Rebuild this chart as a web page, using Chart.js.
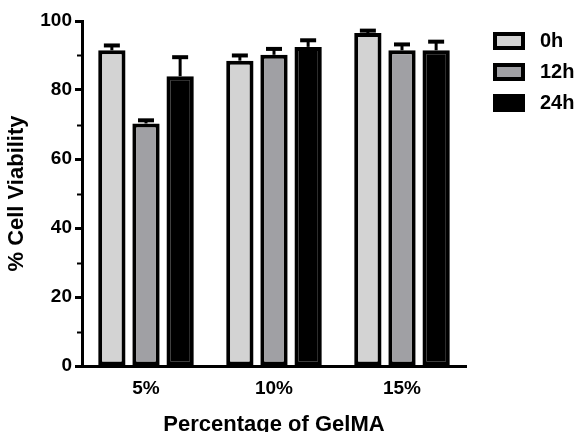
<!DOCTYPE html>
<html>
<head>
<meta charset="utf-8">
<script src="https://cdn.jsdelivr.net/npm/chart.js@4"></script>
<style>
  html, body { margin: 0; padding: 0; background: #fff; }
  #wrap { width: 578px; height: 432px; }
</style>
</head>
<body>
<div id="wrap"><canvas id="myChart"></canvas></div>
<script>
const categories = ['5%', '10%', '15%'];
const seriesNames = ['0h', '12h', '24h'];
const viability0h = [91.5, 88.5, 96.5];
const viability12h = [70.3, 90.2, 91.5];
const viability24h = [84.0, 92.5, 91.5];
const err0h = [1.7, 1.8, 1.0];
const err12h = [1.2, 2.0, 2.0];
const err24h = [5.8, 2.2, 2.8];
const yTicks = [0, 20, 40, 60, 80, 100];
const yMinorTicks = [10, 30, 50, 70, 90];

Chart.defaults.font.family = "'Liberation Sans', Arial, sans-serif";
Chart.defaults.font.weight = 'bold';
Chart.defaults.color = '#000';

// error bars (upper only) drawn from the y scale
const errorBars = {
    id: 'errorBars',
    afterDatasetsDraw(chart) {
        const ctx = chart.ctx;
        const y = chart.scales.y;
        ctx.save();
        ctx.strokeStyle = '#000';
        chart.data.datasets.forEach((ds, i) => {
            chart.getDatasetMeta(i).data.forEach((bar, j) => {
                const top = y.getPixelForValue(ds.data[j] + ds.errors[j]);
                ctx.lineWidth = 3;
                ctx.beginPath();
                ctx.moveTo(bar.x, bar.y);
                ctx.lineTo(bar.x, top);
                ctx.stroke();
                ctx.lineWidth = 4;
                ctx.beginPath();
                ctx.moveTo(bar.x - 8, top + 1);
                ctx.lineTo(bar.x + 8, top + 1);
                ctx.stroke();
            });
        });
        ctx.restore();
    }
};

// minor ticks + legend on the right
const extras = {
    id: 'extras',
    afterDraw(chart) {
        const ctx = chart.ctx;
        const y = chart.scales.y;
        const left = chart.chartArea.left;
        ctx.save();
        ctx.strokeStyle = '#000';
        ctx.lineWidth = 2;
        yMinorTicks.forEach(v => {
            const py = Math.round(y.getPixelForValue(v)) + 0.5;
            ctx.beginPath();
            ctx.moveTo(left - 5, py);
            ctx.lineTo(left, py);
            ctx.stroke();
        });

        ctx.font = "bold 20px 'Liberation Sans', Arial, sans-serif";
        ctx.textBaseline = 'middle';
        chart.data.datasets.forEach((ds, i) => {
            const bx = 493, by = 32 + i * 31;
            ctx.fillStyle = ds.backgroundColor;
            ctx.fillRect(bx, by, 32, 18);
            ctx.lineWidth = 4;
            ctx.strokeStyle = '#000';
            ctx.strokeRect(bx + 2, by + 2, 28, 14);
            ctx.fillStyle = '#000';
            ctx.fillText(ds.label, 540, by + 9);
        });
        ctx.restore();
    }
};

const ctx1 = document.getElementById('myChart').getContext('2d');

new Chart(ctx1, {
    type: 'bar',
    data: {
        labels: categories,
        datasets: [
            { label: seriesNames[0], data: viability0h, errors: err0h, backgroundColor: '#d3d3d3' },
            { label: seriesNames[1], data: viability12h, errors: err12h, backgroundColor: '#a0a0a4' },
            { label: seriesNames[2], data: viability24h, errors: err24h, backgroundColor: '#000000' }
        ].map(d => Object.assign(d, {
            borderColor: '#000',
            borderWidth: 4,
            borderSkipped: false,
            categoryPercentage: 0.8,
            barPercentage: 0.8
        }))
    },
    options: {
        responsive: true,
        maintainAspectRatio: false,
        animation: false,
        devicePixelRatio: 1,
        layout: { padding: { top: 21, right: 112, left: 0, bottom: 0 } },
        plugins: {
            legend: { display: false },
            tooltip: { enabled: false }
        },
        scales: {
            x: {
                grid: { display: false, drawTicks: false },
                border: { color: '#000', width: 3 },
                ticks: { font: { size: 19 }, padding: 11 },
                title: {
                    display: true,
                    text: 'Percentage of GelMA',
                    font: { size: 22, lineHeight: 1 },
                    padding: { top: 0, bottom: -4 }
                },
                afterFit(scale) { scale.height = 66; }
            },
            y: {
                min: 0,
                max: 100,
                afterBuildTicks(scale) { scale.ticks = yTicks.map(v => ({ value: v })); },
                grid: { drawOnChartArea: false, tickLength: 7, tickWidth: 3, tickColor: '#000' },
                border: { color: '#000', width: 3 },
                ticks: { font: { size: 19 }, padding: 3 },
                title: {
                    display: true,
                    text: '% Cell Viability',
                    font: { size: 22 },
                    padding: { top: 4, bottom: 4 }
                },
                afterFit(scale) { scale.width = 82; }
            }
        }
    },
    plugins: [errorBars, extras]
});
</script>
</body>
</html>
